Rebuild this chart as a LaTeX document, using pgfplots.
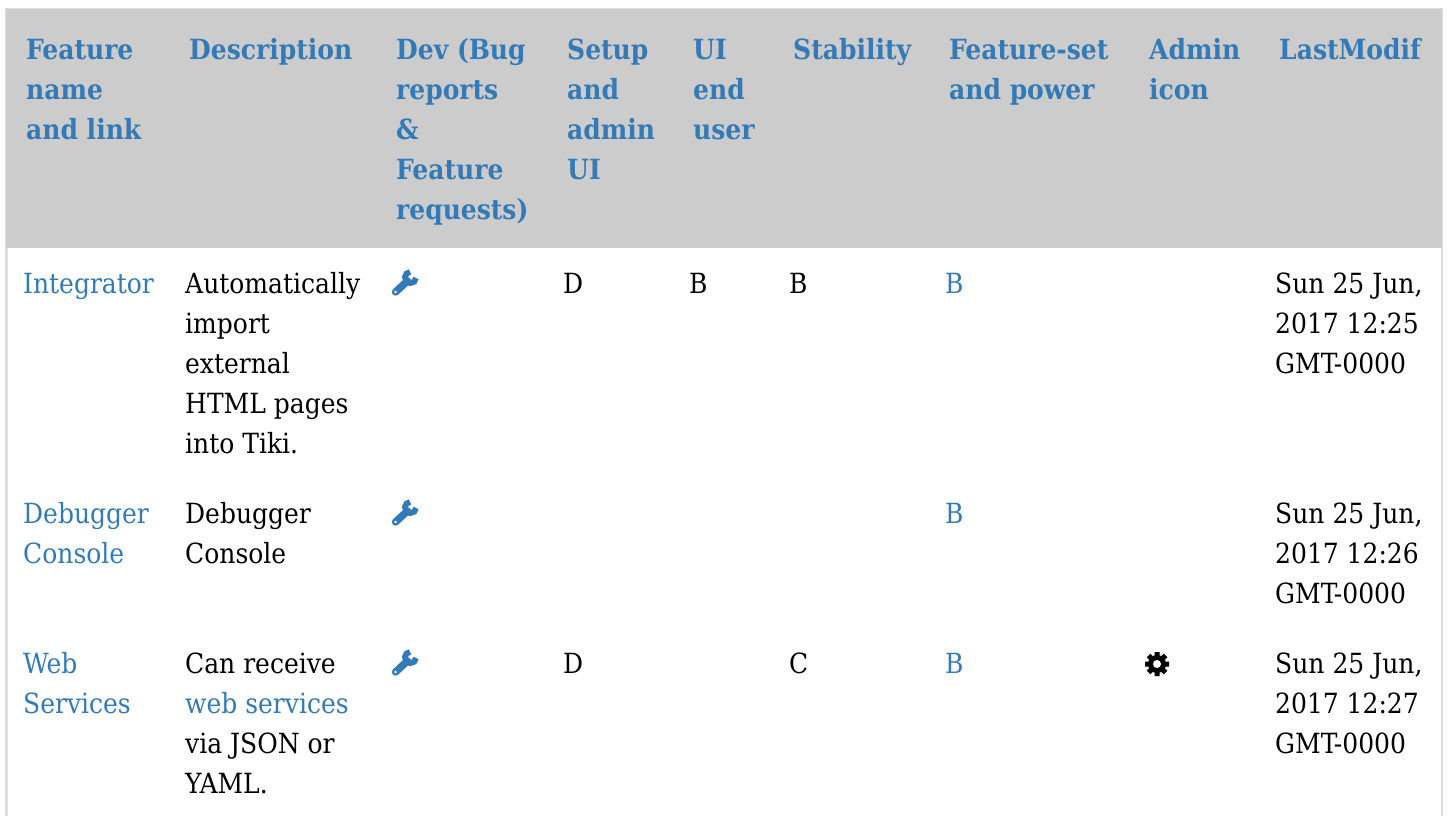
\documentclass[border=0pt]{standalone}
\usepackage{pgfplots}
\pgfplotsset{compat=1.18}
\usepackage{fontspec}
\setmainfont{DejaVu Serif Condensed}
\definecolor{lnk}{HTML}{337AB7}
\definecolor{hdr}{HTML}{CCCCCC}
\definecolor{brd}{HTML}{DDDDDD}
\newcommand{\fs}{\fontsize{27.8}{30}\selectfont}
\newcommand{\HH}[3]{\node[anchor=base west,inner sep=0pt,text=lnk,font=\fs\bfseries,yshift=-0.4pt] at (axis cs:#1,#2) {#3};}
\newcommand{\TT}[3]{\node[anchor=base west,inner sep=0pt,text=black,font=\fs,yshift=-1.2pt] at (axis cs:#1,#2) {#3};}
\newcommand{\LL}[3]{\node[anchor=base west,inner sep=0pt,text=lnk,font=\fs,yshift=-1.2pt] at (axis cs:#1,#2) {#3};}
\newcommand{\wrench}[2]{\begin{scope}[shift={(axis cs:#1,#2)},x=1pt,y=-1pt]
\draw[lnk,line width=7.4pt,line cap=round] (-15,14.5)--(-3,3.5);
\draw[lnk,line width=5.8pt] (5.6,0.5) arc[start angle=5,end angle=265,radius=5.6];
\fill[white] (-15,14.5) circle (1.4pt);
\end{scope}}
\newcommand{\gear}[2]{\begin{scope}[shift={(axis cs:#1,#2)},x=1pt,y=-1pt]
\fill[black] (0,0) circle (9pt);
\draw[black,line width=5pt] (-12,0)--(12,0) (0,-12)--(0,12) (-8.5,-8.5)--(8.5,8.5) (-8.5,8.5)--(8.5,-8.5);
\fill[white] (0,0) circle (4pt);
\end{scope}}
\begin{document}
\begin{tikzpicture}
\begin{axis}[
  scale only axis,width=1448pt,height=816pt,
  xmin=0,xmax=1448,ymin=0,ymax=816,y dir=reverse,
  axis lines=none,clip=true]
\path[draw=none,fill=white] (axis cs:0,0) rectangle (axis cs:1448,816);
\addplot[draw=none,fill=brd] coordinates {(5,8)(1443,8)(1443,816)(5,816)} --cycle;
\addplot[draw=none,fill=white] coordinates {(7.5,248)(1441,248)(1441,816)(7.5,816)} --cycle;
\addplot[draw=none,fill=hdr] coordinates {(6,9)(1442,9)(1442,248)(6,248)} --cycle;
\HH{26}{59}{Feature}\HH{26}{99}{name}\HH{26}{139}{and link}
\HH{189}{59}{Description}
\HH{396}{59}{Dev (Bug}\HH{396}{99}{reports}\HH{396}{139}{\&}\HH{396}{179}{Feature}\HH{396}{219}{requests)}
\HH{567}{59}{Setup}\HH{567}{99}{and}\HH{567}{139}{admin}\HH{567}{179}{UI}
\HH{693}{59}{UI}\HH{693}{99}{end}\HH{693}{139}{user}
\HH{793}{59}{Stability}
\HH{949}{59}{Feature-set}\HH{949}{99}{and power}
\HH{1149}{59}{Admin}\HH{1149}{99}{icon}
\HH{1279}{59}{LastModif}
% row 1
\LL{23}{292}{Integrator}
\TT{185}{292}{Automatically}\TT{185}{332}{import}\TT{185}{372}{external}\TT{185}{412}{HTML pages}\TT{185}{452}{into Tiki.}
\wrench{410.5}{277.5}
\TT{563}{292}{D}\TT{689}{292}{B}\TT{789}{292}{B}\LL{945}{292}{B}
\TT{1275}{292}{Sun 25 Jun,}\TT{1275}{332}{2017 12:25}\TT{1275}{372}{GMT-0000}
% row 2
\LL{23}{522}{Debugger}\LL{23}{562}{Console}
\TT{185}{522}{Debugger}\TT{185}{562}{Console}
\wrench{410.5}{507.5}
\LL{945}{522}{B}
\TT{1275}{522}{Sun 25 Jun,}\TT{1275}{562}{2017 12:26}\TT{1275}{602}{GMT-0000}
% row 3
\LL{23}{672}{Web}\LL{23}{712}{Services}
\TT{185}{672}{Can receive}\LL{185}{712}{web services}\TT{185}{752}{via JSON or}\TT{185}{792}{YAML.}
\wrench{410.5}{657.5}
\TT{563}{672}{D}\TT{789}{672}{C}\LL{945}{672}{B}
\gear{1157}{664}
\TT{1275}{672}{Sun 25 Jun,}\TT{1275}{712}{2017 12:27}\TT{1275}{752}{GMT-0000}
\end{axis}
\end{tikzpicture}
\end{document}
